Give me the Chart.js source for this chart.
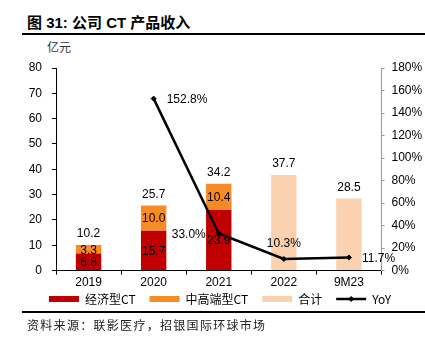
<!DOCTYPE html>
<html>
<head>
<meta charset="utf-8">
<script src="https://cdn.jsdelivr.net/npm/chart.js@4.4.0/dist/chart.umd.min.js"></script>
<style>
  body { margin: 0; width: 425px; height: 345px; background: #fff; position: relative; overflow: hidden;
         font-family: "Liberation Sans", "Noto Sans CJK SC", sans-serif; }
  #title { position: absolute; left: 27px; top: 11px; font-size: 15px; font-weight: bold; color: #000;
           font-family: "Liberation Sans", "Noto Sans CJK SC", sans-serif; }
  #rule1 { position: absolute; left: 22px; right: 0; top: 33px; height: 2px; background: #000; }
  #unit { position: absolute; left: 47px; top: 38px; font-size: 12px; color: #333;
          font-family: "Noto Sans CJK SC", sans-serif; }
  #rule2 { position: absolute; left: 22px; right: 0; top: 311px; height: 2px; background: #000; }
  #source { position: absolute; left: 27px; top: 316px; font-size: 12px; color: #222; letter-spacing: 1.3px;
            font-family: "Noto Sans CJK SC", sans-serif; }
  #wrap { position: absolute; left: 0; top: 0; width: 425px; height: 345px; }
</style>
</head>
<body>
<div id="title">图 31: 公司 CT 产品收入</div>
<div id="rule1"></div>
<div id="unit">亿元</div>
<div id="wrap"><canvas id="myChart" width="425" height="345"></canvas></div>
<div id="rule2"></div>
<div id="source">资料来源：联影医疗，招银国际环球市场</div>
<script>
const categories = ['2019', '2020', '2021', '2022', '9M23'];
const economyCT = [6.8, 15.7, 23.9, null, null];
const midHighCT = [3.3, 10.0, 10.4, null, null];
const totalOnly = [null, null, null, 37.7, 28.5];
const totals = [10.2, 25.7, 34.2, 37.7, 28.5];
const yoy = [null, 152.8, 33.0, 10.3, 11.7];
const leftTicks = [0, 10, 20, 30, 40, 50, 60, 70, 80];
const rightTicks = [0, 20, 40, 60, 80, 100, 120, 140, 160, 180];

const numFont = '12px "Liberation Sans", Arial, sans-serif';

// pull the legend a bit closer to the x axis
const legendShift = {
    id: 'legendShift',
    afterLayout(chart) {
        if (chart.legend) {
            chart.legend.top -= 12;
            chart.legend.bottom -= 12;
        }
    }
};

// labels inside segments, totals above bars, YoY labels next to points
const labelPlugin = {
    id: 'labels',
    afterDatasetsDraw(chart) {
        const ctx = chart.ctx;
        const yScale = chart.scales.y;
        ctx.save();
        ctx.font = numFont;
        ctx.fillStyle = '#000';
        ctx.textAlign = 'center';
        ctx.textBaseline = 'middle';
        [0, 1].forEach(function (di) {
            chart.getDatasetMeta(di).data.forEach(function (el, i) {
                const v = chart.data.datasets[di].data[i];
                if (v === null) return;
                ctx.fillText(v.toFixed(1), el.x, (el.y + el.base) / 2 + 1);
            });
        });
        const barMeta = chart.getDatasetMeta(0);
        totals.forEach(function (t, i) {
            const x = barMeta.data[i].x;
            ctx.fillText(t.toFixed(1), x, yScale.getPixelForValue(t) - 11);
        });
        const pos = ['', 'right', 'left', 'top', 'right'];
        chart.getDatasetMeta(3).data.forEach(function (el, i) {
            const v = yoy[i];
            if (v === null) return;
            const txt = v.toFixed(1) + '%';
            if (pos[i] === 'right') {
                ctx.textAlign = 'left';
                ctx.fillText(txt, el.x + 13, el.y + 1);
            } else if (pos[i] === 'left') {
                ctx.textAlign = 'right';
                ctx.fillText(txt, el.x - 13, el.y + 1);
            } else {
                ctx.textAlign = 'center';
                ctx.fillText(txt, el.x, el.y - 15);
            }
        });
        // small diamond on the YoY legend line
        const legend = chart.legend;
        if (legend && legend.legendHitBoxes && legend.legendHitBoxes[3]) {
            const hb = legend.legendHitBoxes[3];
            const cx = hb.left + 15, cy = hb.top + hb.height / 2;
            ctx.beginPath();
            ctx.moveTo(cx, cy - 3);
            ctx.lineTo(cx + 3, cy);
            ctx.lineTo(cx, cy + 3);
            ctx.lineTo(cx - 3, cy);
            ctx.closePath();
            ctx.fill();
        }
        ctx.restore();
    }
};

const data = {
    labels: categories,
    datasets: [{
        type: 'bar',
        label: '经济型CT',
        data: economyCT,
        backgroundColor: '#C00000',
        stack: 's',
        yAxisID: 'y',
        order: 2
    }, {
        type: 'bar',
        label: '中高端型CT',
        data: midHighCT,
        backgroundColor: '#F78B26',
        stack: 's',
        yAxisID: 'y',
        order: 2
    }, {
        type: 'bar',
        label: '合计',
        data: totalOnly,
        backgroundColor: '#FAD2B0',
        stack: 's',
        yAxisID: 'y',
        order: 2
    }, {
        type: 'line',
        label: 'YoY',
        data: yoy,
        borderColor: '#000',
        backgroundColor: '#000',
        borderWidth: 2.5,
        pointStyle: 'rectRot',
        pointRadius: 2.5,
        pointBorderWidth: 1,
        yAxisID: 'y1',
        order: 1
    }]
};

const config = {
    type: 'bar',
    data: data,
    options: {
        responsive: false,
        animation: false,
        events: [],
        datasets: {
            bar: { barPercentage: 0.39, categoryPercentage: 1 }
        },
        layout: { padding: { top: 68, left: 15, right: 0, bottom: 18 } },
        plugins: {
            tooltip: { enabled: false },
            legend: {
                position: 'bottom',
                labels: {
                    usePointStyle: true,
                    pointStyleWidth: 30,
                    boxHeight: 6,
                    padding: 14,
                    color: '#000',
                    font: { size: 12, family: '"Noto Sans CJK SC", "Liberation Sans", sans-serif' },
                    generateLabels(chart) {
                        const items = Chart.defaults.plugins.legend.labels.generateLabels(chart);
                        items.sort((a, b) => a.datasetIndex - b.datasetIndex);
                        items.forEach(function (it) {
                            if (it.datasetIndex === 3) {
                                it.pointStyle = 'line';
                                it.lineWidth = 2.5;
                                it.strokeStyle = '#000';
                            } else {
                                it.pointStyle = 'rect';
                                it.lineWidth = 0;
                            }
                        });
                        return items;
                    }
                }
            }
        },
        scales: {
            x: {
                stacked: true,
                grid: { drawOnChartArea: false, color: '#000', tickLength: 4, offset: true },
                border: { color: '#000', width: 1 },
                ticks: { color: '#000', font: { size: 12, family: '"Liberation Sans", Arial' }, padding: 1 }
            },
            y: {
                stacked: true,
                position: 'left',
                min: 0,
                max: 80,
                afterBuildTicks(scale) { scale.ticks = leftTicks.map(v => ({ value: v })); },
                afterFit(scale) { scale.width = 41; },
                grid: { drawOnChartArea: false, color: '#000', tickLength: 4 },
                border: { color: '#000', width: 1 },
                ticks: { color: '#000', font: { size: 12, family: '"Liberation Sans", Arial' }, padding: 10 }
            },
            y1: {
                position: 'right',
                min: 0,
                max: 180,
                afterBuildTicks(scale) { scale.ticks = rightTicks.map(v => ({ value: v })); },
                afterFit(scale) { scale.width = 43.5; },
                grid: { drawOnChartArea: false, color: '#999', tickLength: 3 },
                border: { color: '#999', width: 1 },
                ticks: {
                    color: '#000', padding: 7,
                    font: { size: 12, family: '"Liberation Sans", Arial' },
                    callback: v => v + '%'
                }
            }
        }
    },
    plugins: [legendShift, labelPlugin]
};

const myChart = new Chart(document.getElementById('myChart'), config);
</script>
</body>
</html>
